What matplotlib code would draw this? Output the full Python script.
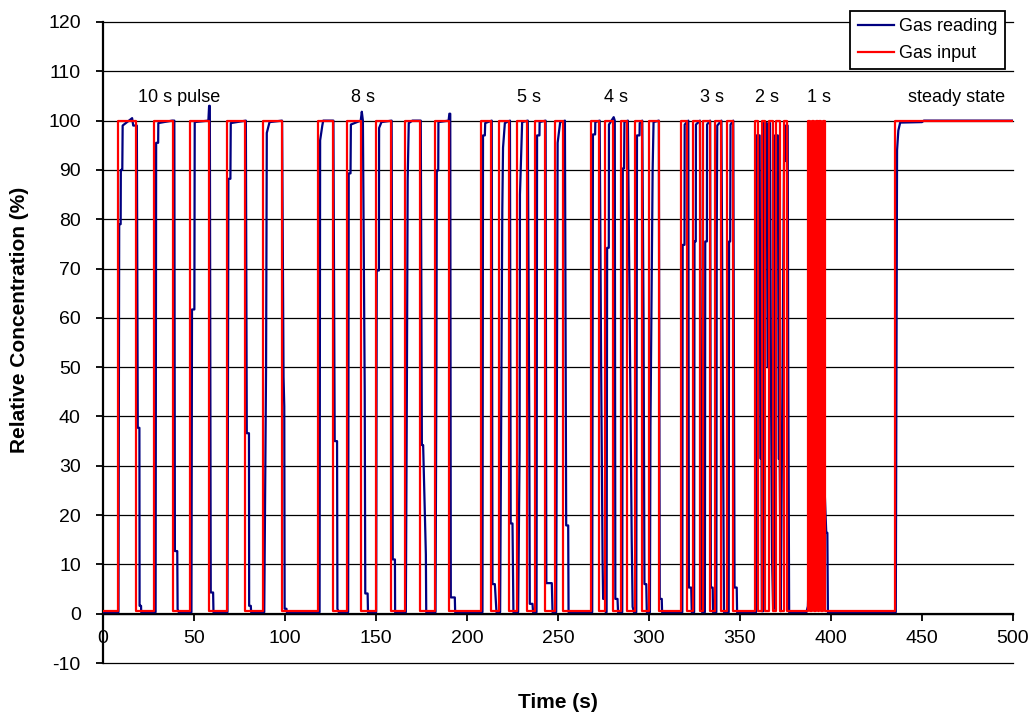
import matplotlib
matplotlib.use("Agg")
import matplotlib.pyplot as plt
import numpy as np

plt.rcParams["font.family"] = ["Liberation Sans", "DejaVu Sans"]
plt.rcParams["axes.unicode_minus"] = False

# gas input (square wave): switch-on and switch-off times (s)
input_on = [8, 28, 48, 68, 88,
            118.4, 134.3, 149.8, 166.1, 182.3,
            207.8, 217.6, 227.6, 237.4, 248.2,
            268.1, 276.0, 284.5, 292.3, 300.1,
            317.6, 324.0, 329.6, 336.1, 342.8,
            358, 362, 366, 370, 374,
            387.6, 389.6, 391.6, 393.6, 395.6,
            435.2]
input_off = [18.3, 38.3, 58.3, 78.1, 98.2,
             126.4, 141.8, 158.0, 174.3, 190.0,
             213.2, 223.3, 233.2, 242.9, 252.7,
             272.7, 280.2, 288.1, 296.0, 305.3,
             320.9, 327.8, 333.3, 339.7, 346.0,
             360, 364, 368, 372, 376,
             388.6, 390.6, 392.6, 394.6, 396.6,
             500]
input_low = 0.6
input_high = 100

# gas reading (sensor)
reading_t = [0,
    8.5, 8.9, 9.7, 9.8, 10.6, 10.8, 16, 16.6, 18.6, 19.1, 20, 20.1, 20.9, 21,
    28.9, 29.2, 30.3, 30.4, 38, 39.2, 39.5, 40.8, 41, 41.6,
    48.6, 48.9, 50.2, 50.4, 57.9, 58.3, 58.7, 59.2, 60.5, 60.7,
    68.4, 68.9, 70.0, 70.2, 78.5, 79, 80.2, 80.3, 81.2, 81.4,
    88.6, 89.6, 90, 91.5, 98.4, 99.2, 99.6, 99.8, 100.8, 101,
    119, 119.3, 120.5, 121, 126.6, 127.3, 128.6, 128.8, 129.5,
    134.7, 135, 136, 136.2, 141.6, 142.2, 142.8, 143.8, 144.1, 145.4, 145.6,
    150.1, 150.4, 151.6, 151.7, 153, 158.6, 159.2, 160.4, 160.5,
    166.4, 167, 167.4, 168, 170, 174.6, 175.2, 175.9, 177.4, 177.6,
    182.7, 183.2, 183.4, 184.2, 184.3, 189.9, 190.3, 190.8, 191.1, 193.3, 193.5,
    208.5, 208.8, 209.8, 210, 213.6, 214, 215.3, 216.2,
    218.2, 218.9, 219.4, 219.8, 220.8, 223.6, 224, 225, 225.5,
    228.1, 228.9, 229.1, 230.3, 233.4, 234.2, 234.5, 236, 236.3,
    238.2, 238.5, 239.8, 239.9, 243.2, 243.6, 246.6, 247,
    249, 249.5, 249.8, 251.2, 253.8, 254.5, 255.6, 255.8,
    268.8, 269.2, 270.4, 270.5, 272.9, 273.7, 274.5, 274.8, 276, 276.2,
    276.7, 277, 277.9, 278, 280.6, 281.2, 281.5, 282.7, 283,
    285.3, 285.6, 286.3, 286.5, 288.4, 289.5, 290.5, 291, 291.7,
    293, 293.4, 294.8, 294.9, 296.3, 297, 297.5, 298.5, 298.8,
    300.5, 300.8, 302, 302.5, 305.4, 305.9, 307, 307.2,
    318.3, 318.5, 319.5, 319.6, 321.6, 321.9, 323.2, 323.5,
    324.8, 325, 325.7, 325.8, 328, 328.5, 329, 329.2,
    330.7, 330.9, 331.8, 331.9, 333.6, 334, 335, 335.2,
    337, 337.2, 337.5, 339.8, 340.5, 341.2,
    343.8, 344, 344.6, 344.8, 346.3, 347, 348.2, 348.4,
    358.8, 359.1, 360.8, 361.2, 361.8, 362, 362.7, 363, 364.5, 365.3, 365.6,
    366.5, 367, 367.6, 368.2, 368.8, 369.2, 370.8, 371.3, 371.8, 372.4, 373,
    374.3, 374.8, 375.2, 376.2, 376.5, 377,
    386.5, 387.3, 389, 391, 393, 394.2, 395, 396.5, 397.4, 398, 398.3,
    435.6, 436.3, 437, 438, 450, 451, 500]
reading_v = [0.3,
    0.3, 79, 79, 90, 90, 99, 100.5, 99, 99, 37.7, 37.7, 1.6, 1.6, 0.3,
    0.3, 95.5, 95.5, 99.5, 100, 100, 12.7, 12.7, 0.9, 0.3,
    0.3, 61.7, 61.7, 99.7, 100, 103, 103, 4.3, 4.3, 0.3,
    0.3, 88.2, 88.2, 99.5, 100, 36.6, 36.6, 1.6, 1.6, 0.3,
    0.3, 50, 97.5, 99.7, 100, 48, 42, 1, 1, 0.3,
    0.3, 96, 99, 100, 100, 35, 35, 1, 0.3,
    0.3, 89.3, 89.3, 99.2, 100, 101.8, 100, 45, 4.1, 4.1, 0.3,
    0.3, 69.6, 69.6, 98.5, 99.7, 100, 11, 11, 0.3,
    0.3, 49, 88, 99.5, 100, 100, 34.2, 34.2, 12, 0.3,
    0.3, 50, 89.9, 89.9, 99.7, 100, 101.4, 101.4, 3.3, 3.3, 0.3,
    0.3, 97, 97, 99.5, 100, 6, 6, 0.3,
    0.3, 50, 82, 94.5, 99.5, 100, 18.3, 18.3, 0.3,
    0.3, 33, 85, 99.7, 100, 40, 2, 2, 0.3,
    0.3, 97, 97, 99.7, 100, 6.2, 6.2, 0.3,
    0.3, 60, 95.5, 99.7, 100, 17.9, 17.9, 0.3,
    0.3, 97.2, 97.2, 99.7, 100, 50, 10.5, 3, 3, 0.3,
    0.3, 74.2, 74.2, 99.2, 100.7, 100, 3, 3, 0.3,
    0.3, 90.3, 90.3, 99.7, 100, 55, 15, 1.4, 0.3,
    0.3, 97, 97, 99.5, 100, 60, 6, 6, 0.3,
    0.3, 38, 90, 99.7, 100, 3, 3, 0.3,
    0.3, 74.8, 74.8, 99.2, 100, 5.3, 5.3, 0.3,
    0.3, 75.5, 75.5, 99.2, 100, 50, 30, 0.3,
    0.3, 75.5, 75.5, 99.2, 100, 5.3, 5.3, 0.3,
    0.3, 75.5, 99, 100, 49, 0.3,
    0.3, 75.5, 75.5, 99.2, 100, 5.3, 5.3, 0.3,
    0.3, 97, 97, 31.5, 31.5, 0.5, 0.5, 99.5, 99.5, 50, 99.5,
    99.5, 48, 11.4, 1, 1, 97, 97, 31.4, 31.4, 0.5, 31,
    97, 91.8, 99, 99, 52, 0.3,
    0.3, 1.5, 20, 50, 25, 44, 44, 25, 16.4, 16.4, 0.3,
    0.3, 94, 98, 99.6, 99.7, 100, 100]

# pulse labels
label_text = ["10 s pulse", "8 s", "5 s", "4 s", "3 s", "2 s", "1 s", "steady state"]
label_t = [41.6, 143, 234, 282, 334.5, 365, 393.5, 469]
label_y = 104.6

# build the square wave from the on/off times
step_t = [0]
step_v = [input_low]
for t_on, t_off in zip(input_on, input_off):
    step_t += [t_on, t_on, t_off, t_off]
    step_v += [input_low, input_high, input_high, input_low]
step_t = np.array(step_t)
step_v = np.array(step_v)
if step_t[-1] >= 500:
    step_t, step_v = step_t[:-1], step_v[:-1]

fig = plt.figure(figsize=(10.32, 7.13), dpi=100)
ax = fig.add_axes([103/1032, 1-663/713, 910/1032, 641/713])

ax.plot(reading_t, reading_v, color="#000080", lw=1.6, label="Gas reading", zorder=3)
ax.plot(step_t, step_v, color="#FF0000", lw=1.6, label="Gas input", zorder=4)

ax.set_xlim(0, 500)
ax.set_ylim(-10, 120)
ax.set_xticks(np.arange(0, 501, 50))
ax.set_yticks(np.arange(-10, 121, 10))
ax.yaxis.grid(True, color="black", lw=0.9)
ax.set_axisbelow(True)
for gl in ax.get_ygridlines():
    gl.set_clip_on(False)

for s in ["top", "right"]:
    ax.spines[s].set_visible(False)
ax.spines["bottom"].set_position(("data", 0))
ax.spines["bottom"].set_linewidth(1.6)
ax.spines["left"].set_linewidth(1.6)
ax.tick_params(axis="both", direction="out", length=5, width=1.3, labelsize=14)
ax.tick_params(axis="y", pad=11)
ax.tick_params(axis="x", pad=7)

for txt, t in zip(label_text, label_t):
    ax.text(t, label_y, txt, ha="center", va="center", fontsize=13)

leg = ax.legend(loc="upper right", bbox_to_anchor=(0.991, 1.017), borderaxespad=0,
                fontsize=13, frameon=True, fancybox=False, framealpha=1,
                edgecolor="black", handlelength=2.0, handletextpad=0.3,
                borderpad=0.4, labelspacing=0.55)
leg.get_frame().set_linewidth(1.3)

fig.text(558/1032, 1-702/713, "Time (s)", ha="center", va="center",
         fontsize=15, fontweight="bold")
fig.text(20/1032, 1-320/713, "Relative Concentration (%)", ha="center", va="center",
         rotation=90, fontsize=15, fontweight="bold")

fig.savefig("out.png", dpi=100)
